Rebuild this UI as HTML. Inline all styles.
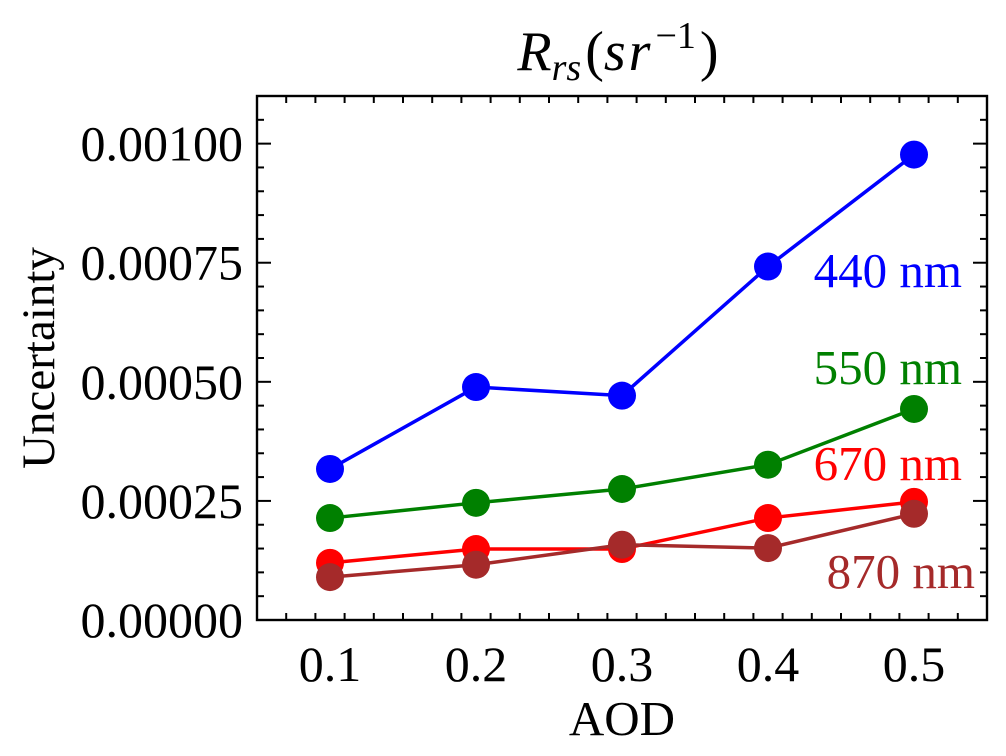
<!DOCTYPE html>
<html><head><meta charset="utf-8"><style>
body{margin:0;background:#fff;}
svg text{font-family:"Liberation Serif",serif;}
</style></head><body>
<svg id="chart" width="1006" height="751" viewBox="0 0 1006 751" xmlns="http://www.w3.org/2000/svg">
<g id="plot"></g>
</svg>
<script>
const categories=[0.1,0.2,0.3,0.4,0.5];
const s440=[0.000317,0.000489,0.000471,0.000742,0.000977];
const s550=[0.000214,0.000246,0.000275,0.000326,0.000443];
const s670=[0.000120,0.000149,0.000149,0.000214,0.000248];
const s870=[0.000090,0.000116,0.000158,0.000151,0.000223];
const yTicks=[0,0.00025,0.0005,0.00075,0.001];
const yTickLabels=["0.00000","0.00025","0.00050","0.00075","0.00100"];
const xTickLabels=["0.1","0.2","0.3","0.4","0.5"];
const seriesNames=["440 nm","550 nm","670 nm","870 nm"];

const L=257,R=987,T=96,B=620;
const x=v=>L+(v-0.05)/0.5*(R-L);
const y=v=>B-v/0.0011*(B-T);
const NS="http://www.w3.org/2000/svg";
const g=document.getElementById('plot');
function mk(tag,attrs,parent){const e=document.createElementNS(NS,tag);for(const k in attrs)e.setAttribute(k,attrs[k]);(parent||g).appendChild(e);return e;}

const frame=mk('rect',{x:L,y:T,width:R-L,height:B-T,fill:'none',stroke:'#000','stroke-width':2.4});



for(let i=0;i<=22;i++){const v=i*0.00005;const major=i%5===0;const len=major?14:7;const yy=y(v);
 const t1=mk('line',{x1:L,x2:L+len,y1:yy,y2:yy,stroke:'#000','stroke-width':2});
 
 
 const t2=mk('line',{x1:R,x2:R-len,y1:yy,y2:yy,stroke:'#000','stroke-width':2});
 
 }
for(let i=0;i<=25;i++){const v=0.05+i*0.02;if(v>0.5501)break;const major=Math.abs((v*10)-Math.round(v*10))<1e-6;const len=major?14:7;const xx=x(v);
 const t1=mk('line',{x1:xx,x2:xx,y1:B,y2:B-len,stroke:'#000','stroke-width':2});
 
 
 const t2=mk('line',{x1:xx,x2:xx,y1:T,y2:T+len,stroke:'#000','stroke-width':2});
 
 }
yTicks.forEach((v,i)=>{const t=mk('text',{x:L-14,y:y(v)+17,'text-anchor':'end','font-size':50});t.textContent=yTickLabels[i];
 
 });
categories.forEach((v,i)=>{const t=mk('text',{x:x(v),y:B+61,'text-anchor':'middle','font-size':50});t.textContent=xTickLabels[i];
 
 });

const all=[s440,s550,s670,s870];
const colors=['#0000ff','#008000','#ff0000','#a52a2a'];
all.forEach((s,k)=>{
 const pl=mk('polyline',{points:s.map((v,i)=>x(categories[i])+','+y(v)).join(' '),fill:'none',stroke:colors[k],'stroke-width':3.5});
 
 
 s.forEach((v,i)=>{const c=mk('circle',{cx:x(categories[i]),cy:y(v),r:14,fill:colors[k]});
  
  });
});

const lbl=[[962,287],[962,384],[962,480],[975,588]];
seriesNames.forEach((n,k)=>{const t=mk('text',{x:lbl[k][0],y:lbl[k][1],'text-anchor':'end','font-size':49,fill:colors[k]});t.textContent=n;
 
 });

const xt=mk('text',{x:(L+R)/2,y:735,'text-anchor':'middle','font-size':49});xt.textContent='AOD';


const yt=mk('text',{x:54,y:(T+B)/2,'text-anchor':'middle','font-size':47,transform:'rotate(-90 54 '+((T+B)/2)+')'});yt.textContent='Uncertainty';


const tt=mk('text',{x:618,y:70,'text-anchor':'middle','font-size':56});
tt.innerHTML='<tspan font-style="italic">R</tspan><tspan font-style="italic" font-size="38" dy="10">rs</tspan><tspan dy="-10" dx="4">(</tspan><tspan font-style="italic" letter-spacing="3">sr</tspan><tspan font-size="38" dy="-22" dx="2">−1</tspan><tspan dy="22" dx="4">)</tspan>';


</script>
</body></html>
